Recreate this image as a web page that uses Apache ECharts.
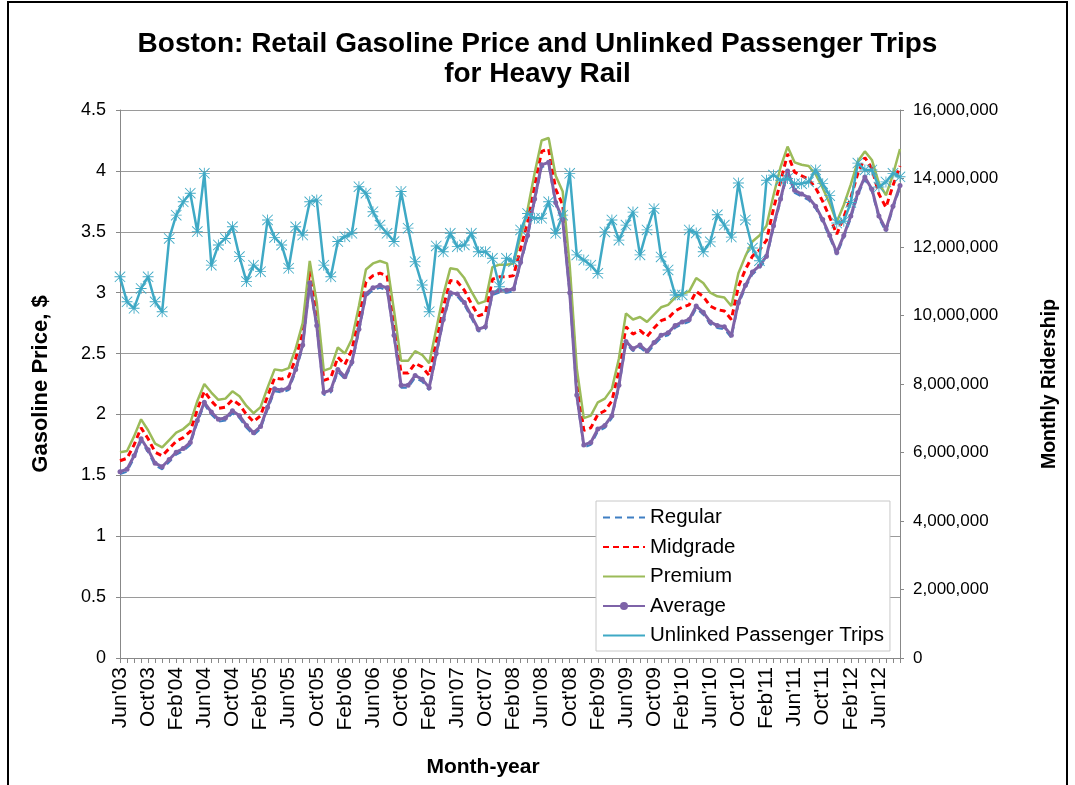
<!DOCTYPE html>
<html>
<head>
<meta charset="utf-8">
<title>Boston: Retail Gasoline Price and Unlinked Passenger Trips for Heavy Rail</title>
<script src="https://cdn.jsdelivr.net/npm/echarts@6/dist/echarts.min.js"></script>
<style>
  html, body { margin: 0; padding: 0; background: #fff; }
  #chart { width: 1075px; height: 785px; }
</style>
</head>
<body>
<div id="chart"></div>
<script>
// month labels Jun'03 .. Sep'12
var monthNames = ["Jan", "Feb", "Mar", "Apr", "May", "Jun", "Jul", "Aug", "Sep", "Oct", "Nov", "Dec"];
var months = [];
for (var y = 2003; y <= 2012; y++) {
  for (var m = 0; m < 12; m++) {
    if (y === 2003 && m < 5) continue;
    if (y === 2012 && m > 8) continue;
    months.push(monthNames[m] + "'" + String(y).slice(2));
  }
}

// gasoline prices, $ per gallon (rows: 2003 Jun-Dec, then one row per year)
var regular = [
  1.51, 1.53, 1.64, 1.78, 1.69, 1.58, 1.55,
  1.61, 1.67, 1.70, 1.75, 1.93, 2.08, 2.00, 1.94, 1.95, 2.01, 1.97, 1.89,
  1.83, 1.88, 2.04, 2.19, 2.18, 2.20, 2.35, 2.55, 3.06, 2.71, 2.16, 2.18,
  2.35, 2.29, 2.41, 2.68, 2.97, 3.02, 3.04, 3.02, 2.63, 2.22, 2.22, 2.30,
  2.27, 2.20, 2.48, 2.76, 2.98, 2.97, 2.90, 2.79, 2.68, 2.70, 2.98, 3.00,
  3.00, 3.01, 3.23, 3.45, 3.75, 4.03, 4.05, 3.72, 3.58, 2.98, 2.14, 1.73,
  1.75, 1.86, 1.89, 1.97, 2.22, 2.58, 2.52, 2.55, 2.50, 2.57, 2.63, 2.65,
  2.71, 2.74, 2.76, 2.87, 2.82, 2.74, 2.71, 2.70, 2.63, 2.90, 3.04, 3.15,
  3.20, 3.28, 3.53, 3.75, 3.98, 3.82, 3.79, 3.76, 3.69, 3.58, 3.45, 3.31,
  3.45, 3.61, 3.80, 3.93, 3.83, 3.61, 3.50, 3.69, 3.86
];
var midgrade = [
  1.62, 1.64, 1.75, 1.89, 1.80, 1.69, 1.66,
  1.72, 1.78, 1.81, 1.86, 2.04, 2.19, 2.11, 2.05, 2.06, 2.12, 2.08, 2.00,
  1.94, 1.99, 2.15, 2.30, 2.29, 2.31, 2.46, 2.67, 3.18, 2.83, 2.28, 2.30,
  2.47, 2.41, 2.53, 2.80, 3.09, 3.14, 3.16, 3.14, 2.75, 2.34, 2.34, 2.42,
  2.39, 2.32, 2.60, 2.88, 3.10, 3.09, 3.02, 2.91, 2.81, 2.83, 3.11, 3.13,
  3.13, 3.14, 3.36, 3.58, 3.88, 4.16, 4.18, 3.85, 3.72, 3.12, 2.28, 1.87,
  1.89, 2.00, 2.03, 2.11, 2.36, 2.72, 2.66, 2.69, 2.64, 2.71, 2.77, 2.79,
  2.85, 2.88, 2.90, 3.01, 2.97, 2.89, 2.86, 2.85, 2.78, 3.05, 3.19, 3.30,
  3.35, 3.43, 3.69, 3.91, 4.14, 3.99, 3.96, 3.93, 3.86, 3.75, 3.62, 3.48,
  3.62, 3.78, 3.98, 4.11, 4.02, 3.81, 3.70, 3.88, 4.04
];
var premium = [
  1.69, 1.70, 1.82, 1.96, 1.87, 1.76, 1.73,
  1.79, 1.85, 1.88, 1.93, 2.11, 2.25, 2.18, 2.12, 2.13, 2.19, 2.15, 2.07,
  2.01, 2.06, 2.22, 2.37, 2.36, 2.38, 2.54, 2.75, 3.26, 2.92, 2.36, 2.38,
  2.55, 2.50, 2.62, 2.89, 3.19, 3.24, 3.26, 3.24, 2.85, 2.44, 2.44, 2.52,
  2.49, 2.42, 2.70, 2.98, 3.20, 3.19, 3.12, 3.01, 2.91, 2.93, 3.21, 3.23,
  3.23, 3.24, 3.46, 3.68, 3.98, 4.25, 4.27, 3.96, 3.83, 3.22, 2.38, 1.97,
  1.99, 2.10, 2.13, 2.21, 2.46, 2.83, 2.78, 2.80, 2.76, 2.82, 2.88, 2.90,
  2.96, 2.99, 3.01, 3.12, 3.08, 3.00, 2.97, 2.96, 2.89, 3.16, 3.30, 3.42,
  3.47, 3.55, 3.80, 4.03, 4.20, 4.07, 4.05, 4.04, 3.97, 3.86, 3.73, 3.58,
  3.72, 3.89, 4.08, 4.16, 4.09, 3.90, 3.80, 3.97, 4.18
];
var average = [
  1.53, 1.55, 1.66, 1.80, 1.71, 1.60, 1.57,
  1.63, 1.69, 1.72, 1.77, 1.95, 2.10, 2.02, 1.96, 1.97, 2.03, 1.99, 1.91,
  1.85, 1.90, 2.06, 2.21, 2.20, 2.22, 2.37, 2.57, 3.08, 2.73, 2.18, 2.20,
  2.37, 2.31, 2.43, 2.70, 2.99, 3.04, 3.06, 3.04, 2.65, 2.24, 2.24, 2.32,
  2.29, 2.22, 2.50, 2.78, 3.00, 2.99, 2.92, 2.81, 2.70, 2.72, 3.00, 3.02,
  3.02, 3.03, 3.25, 3.47, 3.77, 4.05, 4.07, 3.74, 3.60, 3.00, 2.16, 1.75,
  1.77, 1.88, 1.91, 1.99, 2.24, 2.60, 2.54, 2.57, 2.52, 2.59, 2.65, 2.67,
  2.73, 2.76, 2.78, 2.89, 2.84, 2.76, 2.73, 2.72, 2.65, 2.92, 3.06, 3.17,
  3.22, 3.30, 3.55, 3.77, 4.00, 3.84, 3.81, 3.78, 3.71, 3.60, 3.47, 3.33,
  3.47, 3.63, 3.82, 3.95, 3.85, 3.63, 3.52, 3.71, 3.88
];
// heavy rail unlinked passenger trips per month
var trips = [
  11130000, 10400000, 10210000, 10790000, 11130000, 10400000, 10110000,
  12250000, 12930000, 13320000, 13570000, 12450000, 14150000, 11470000, 12060000, 12250000, 12590000, 11720000, 10990000,
  11470000, 11280000, 12790000, 12280000, 12060000, 11380000, 12590000, 12350000, 13320000, 13370000, 11470000, 11130000,
  12160000, 12300000, 12400000, 13760000, 13570000, 13030000, 12640000, 12400000, 12160000, 13620000, 12550000, 11570000,
  10890000, 10110000, 12030000, 11860000, 12400000, 12010000, 12060000, 12400000, 11860000, 11860000, 11670000, 10840000,
  11670000, 11570000, 12500000, 12980000, 12840000, 12840000, 13320000, 12400000, 12930000, 14150000, 11770000, 11620000,
  11470000, 11230000, 12440000, 12790000, 12200000, 12640000, 13020000, 11770000, 12500000, 13120000, 11710000, 11330000,
  10600000, 10600000, 12500000, 12410000, 11860000, 12150000, 12940000, 12640000, 12290000, 13870000, 12790000, 11970000,
  11600000, 13950000, 14100000, 13950000, 14000000, 13850000, 13850000, 13900000, 14250000, 13850000, 13500000, 12700000,
  12750000, 13300000, 14450000, 14250000, 14250000, 13750000, 13900000, 14150000, 14050000
];

// asterisk marker like the spreadsheet one
var asterisk = 'path://M9.2,0 h1.6 v20 h-1.6 z M0,9.2 h20 v1.6 h-20 z M1.1,0 L20,18.9 L18.9,20 L0,1.1 z M18.9,0 L20,1.1 L1.1,20 L0,18.9 z';

var font = 'Arial, "Liberation Sans", sans-serif';
var noMark = { opacity: 0 };

var chart = echarts.init(document.getElementById('chart'));

var option = {
  backgroundColor: '#fff',
  animation: false,
  textStyle: { fontFamily: font, color: '#000' },
  title: {
    text: 'Boston: Retail Gasoline Price and Unlinked Passenger Trips\nfor Heavy Rail',
    left: 'center',
    top: 24,
    textStyle: { fontFamily: font, fontSize: 28, fontWeight: 'bold', color: '#000', lineHeight: 30 }
  },
  graphic: [{
    type: 'rect',
    shape: { x: 8, y: 2, width: 1059, height: 800 },
    style: { fill: 'none', stroke: '#000', lineWidth: 2 },
    silent: true
  }],
  legend: {
    orient: 'vertical',
    left: 596,
    top: 501,
    padding: [6, 6, 5, 6],
    itemGap: 8.5,
    itemWidth: 42,
    itemHeight: 10,
    backgroundColor: '#fff',
    borderColor: '#c8c8c8',
    borderWidth: 1,
    textStyle: { fontFamily: font, fontSize: 20.5, color: '#000', lineHeight: 19 },
    data: [
      { name: 'Regular', itemStyle: noMark },
      { name: 'Midgrade', itemStyle: noMark },
      { name: 'Premium', itemStyle: noMark },
      { name: 'Average' },
      { name: 'Unlinked Passenger Trips', itemStyle: noMark }
    ]
  },
  grid: { left: 120, right: 175, top: 110, bottom: 127 },
  xAxis: {
    type: 'category',
    data: months,
    boundaryGap: false,
    name: 'Month-year',
    nameLocation: 'middle',
    nameGap: 99,
    nameTextStyle: { fontFamily: font, fontSize: 21, fontWeight: 'bold', color: '#000', padding: [0, 54, 0, 0] },
    axisLine: { lineStyle: { color: '#888', width: 1 } },
    axisTick: { interval: 0, length: 5, lineStyle: { color: '#888' } },
    axisLabel: { interval: 3, rotate: 90, fontSize: 21, color: '#000', margin: 9 },
    splitLine: { show: false }
  },
  yAxis: [{
    type: 'value',
    min: 0,
    max: 4.5,
    interval: 0.5,
    name: 'Gasoline Price, $',
    nameLocation: 'middle',
    nameGap: 68,
    nameTextStyle: { fontFamily: font, fontSize: 22, fontWeight: 'bold', color: '#000' },
    axisLine: { show: true, lineStyle: { color: '#888' } },
    axisTick: { show: true, length: 4, lineStyle: { color: '#888' } },
    axisLabel: { fontSize: 18, color: '#000', margin: 14 },
    splitLine: { lineStyle: { color: '#9a9a9a', width: 1 } }
  }, {
    type: 'value',
    min: 0,
    max: 16000000,
    interval: 2000000,
    name: 'Monthly Ridership',
    nameLocation: 'middle',
    nameGap: 140,
    nameTextStyle: { fontFamily: font, fontSize: 19.5, fontWeight: 'bold', color: '#000' },
    axisLine: { show: true, lineStyle: { color: '#888' } },
    axisTick: { show: true, length: 4, lineStyle: { color: '#888' } },
    axisLabel: {
      fontSize: 17, color: '#000', margin: 13,
      formatter: function (v) { return v.toLocaleString('en-US'); }
    },
    splitLine: { show: false }
  }],
  series: [{
    name: 'Regular',
    type: 'line',
    yAxisIndex: 0,
    data: regular,
    symbol: 'none',
    color: '#3f7fc3',
    lineStyle: { width: 2, type: [7, 5] }
  }, {
    name: 'Midgrade',
    type: 'line',
    yAxisIndex: 0,
    data: midgrade,
    symbol: 'none',
    color: '#ff0000',
    lineStyle: { width: 3, type: [6, 4] }
  }, {
    name: 'Premium',
    type: 'line',
    yAxisIndex: 0,
    data: premium,
    symbol: 'none',
    color: '#9bbb59',
    lineStyle: { width: 2.5 }
  }, {
    name: 'Average',
    type: 'line',
    yAxisIndex: 0,
    data: average,
    symbol: 'circle',
    symbolSize: 5,
    showAllSymbol: true,
    color: '#7e63a8',
    lineStyle: { width: 3 }
  }, {
    name: 'Unlinked Passenger Trips',
    type: 'line',
    yAxisIndex: 1,
    data: trips,
    symbol: asterisk,
    symbolSize: 11,
    showAllSymbol: true,
    color: '#3fa9c5',
    lineStyle: { width: 2.5 }
  }]
};

chart.setOption(option);
</script>
</body>
</html>
